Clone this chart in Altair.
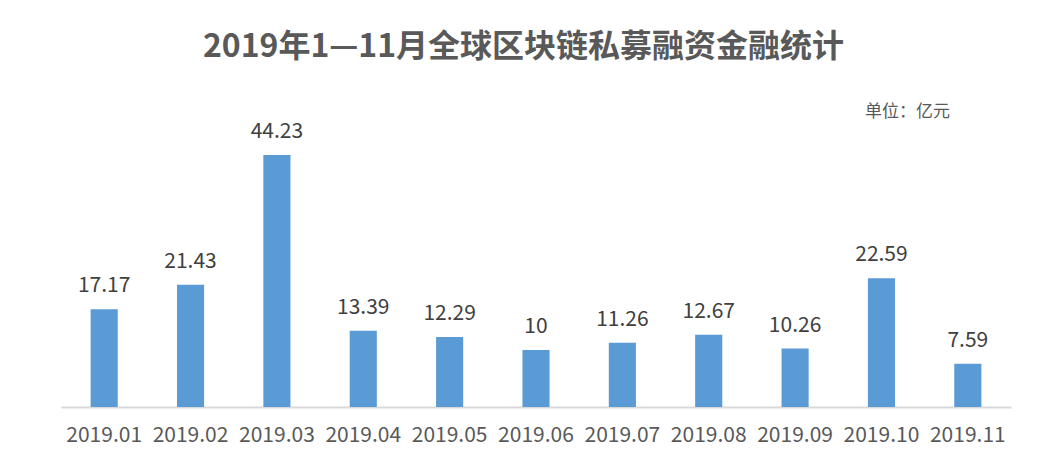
import altair as alt
import pandas as pd

months = ["2019.01", "2019.02", "2019.03", "2019.04", "2019.05", "2019.06",
          "2019.07", "2019.08", "2019.09", "2019.10", "2019.11"]
values = [17.17, 21.43, 44.23, 13.39, 12.29, 10, 11.26, 12.67, 10.26, 22.59, 7.59]
labels = ["17.17", "21.43", "44.23", "13.39", "12.29", "10", "11.26", "12.67", "10.26", "22.59", "7.59"]

title_text = "2019年1—11月全球区块链私募融资金融统计"
unit_text = "单位：亿元"

df = pd.DataFrame({"month": months, "value": values, "label": labels})

FONT = "Noto Sans CJK SC"

x_enc = alt.X("month:N", sort=months, title=None,
              scale=alt.Scale(paddingInner=0.686, paddingOuter=0.343),
              axis=alt.Axis(labelAngle=0, ticks=False, domainColor="#D9D9D9",
                            domainWidth=2, labelColor="#595959", labelFontSize=21,
                            labelFont=FONT, labelPadding=17, grid=False))
y_enc = alt.Y("value:Q", title=None, scale=alt.Scale(domain=[0, 50]), axis=None)

base = alt.Chart(df)

bars = base.mark_bar(color="#5B9BD5").encode(x=x_enc, y=y_enc)

text = base.mark_text(baseline="alphabetic", dy=-17, fontSize=21, font=FONT,
                      color="#404040").encode(
    x=alt.X("month:N", sort=months), y="value:Q", text="label:N")

title = alt.Chart(pd.DataFrame({"t": [title_text]})).mark_text(
    fontSize=32, fontWeight="bold", font=FONT, color="#595959",
    baseline="middle", align="center").encode(
    x=alt.value(462.5), y=alt.value(-75), text="t:N")

unit = alt.Chart(pd.DataFrame({"t": [unit_text]})).mark_text(
    fontSize=17, font=FONT, color="#595959",
    baseline="middle", align="center").encode(
    x=alt.value(846.5), y=alt.value(-10), text="t:N")

chart = alt.layer(bars, text, title, unit).properties(
    width=950, height=285,
    autosize=alt.AutoSizeParams(type="none"),
    padding={"left": 53, "top": 114, "right": 21, "bottom": 54},
    background="white",
).configure_view(stroke=None)

chart.save("out.html", embed_options={"renderer": "svg", "actions": False})
